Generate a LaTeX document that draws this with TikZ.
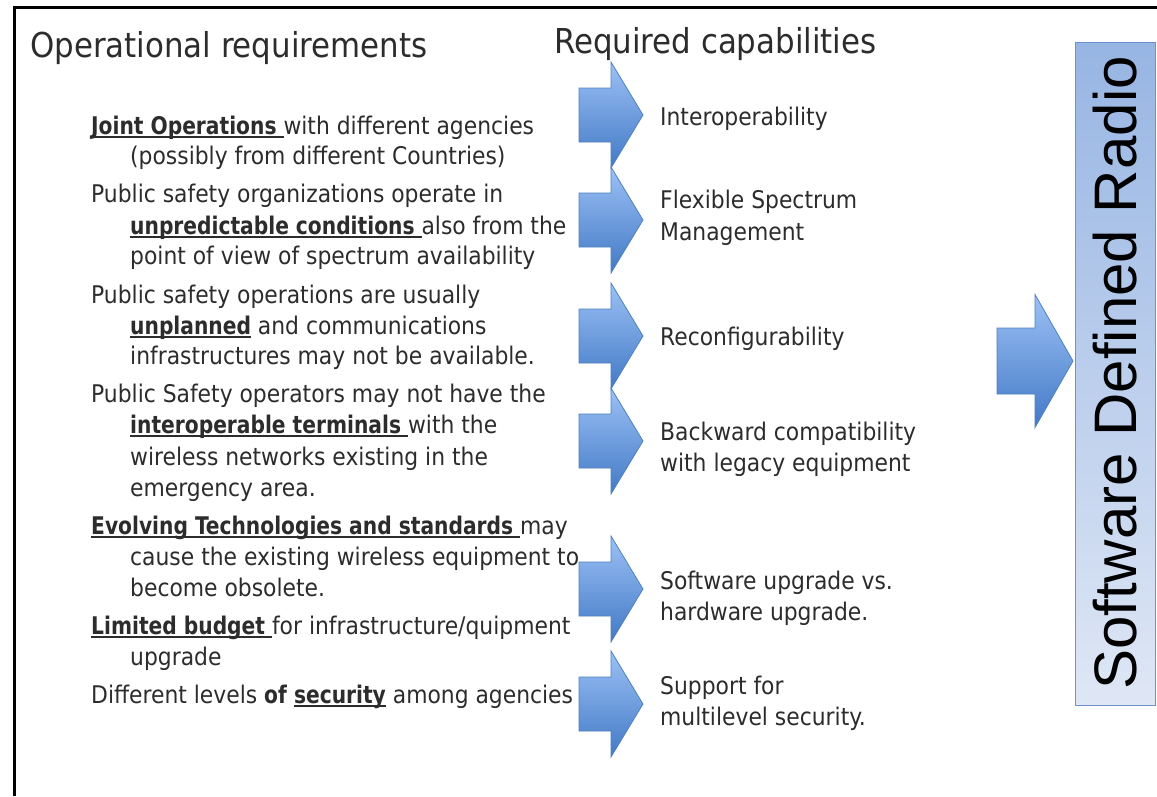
\documentclass[tikz,border=0pt]{standalone}
\usepackage{fontspec}
\setmainfont{DejaVu Sans Condensed}[BoldFeatures={FakeStretch=0.925}]
\newfontfamily\sdrfont{Liberation Sans}

\definecolor{ink}{HTML}{2C2C2C}
\definecolor{arrowtop}{HTML}{9CC1F5}
\definecolor{arrowbot}{HTML}{4279C6}
\definecolor{arrowline}{HTML}{4F81BD}
\definecolor{sdrtop}{HTML}{97B5E3}
\definecolor{sdrbot}{HTML}{DFE7F5}
\definecolor{sdrline}{HTML}{6C92CB}

% underline drawn just below the baseline, crossing descenders
\newsavebox\ulbox
\newcommand\ult[1]{\sbox\ulbox{#1}\rlap{\color{ink}\rule[-3.5pt]{\wd\ulbox}{1.8pt}}\usebox\ulbox}

\tikzset{
  heading/.style={anchor=base west, inner sep=0pt, text=ink, font=\fontsize{34.3}{40}\selectfont},
  reqline/.style={anchor=base west, inner sep=0pt, text=ink, font=\fontsize{24.3}{28}\selectfont},
  capline/.style={reqline},
  blockarrow/.style={draw=arrowline, line width=0.8pt, top color=arrowtop, bottom color=arrowbot, line join=miter},
  sdrbox/.style={draw=sdrline, line width=1pt, top color=sdrtop, bottom color=sdrbot},
}

% block arrow: name, shaft left x, head base x, tip x, centre y, half shaft, half head
\newcommand\blockarr[7]{%
  \path[blockarrow] (#2,{#5-#6}) -- (#3,{#5-#6}) -- (#3,{#5-#7}) -- (#4,#5)
    -- (#3,{#5+#7}) -- (#3,{#5+#6}) -- (#2,{#5+#6}) -- cycle;
  \coordinate (#1) at (#4,#5);
}

\begin{document}
\begin{tikzpicture}[x=1pt,y=-1pt]
\useasboundingbox (0,0) rectangle (1157,796);
\fill[white] (0,0) rectangle (1157,796);

% frame
\draw[line width=3pt, line join=miter] (14.5,796) -- (14.5,7.5) -- (1157,7.5);

% headings
\node[heading] (hreq) at (30,57) {Operational requirements};
\node[heading] (hcap) at (554,53) {Required capabilities};

% operational requirements
\node[reqline] (r1)  at (91,134)  {\ult{\textbf{Joint Operations}\ }with different agencies};
\node[reqline] (r2)  at (130,164) {(possibly from different Countries)};
\node[reqline] (r3)  at (91,202)  {Public safety organizations operate in};
\node[reqline] (r4)  at (130,234) {\ult{\textbf{unpredictable conditions}\ }also from the};
\node[reqline] (r5)  at (130,264) {point of view of spectrum availability};
\node[reqline] (r6)  at (91,303)  {Public safety operations are usually};
\node[reqline] (r7)  at (130,334) {\ult{\textbf{unplanned}} and communications};
\node[reqline] (r8)  at (130,364) {infrastructures may not be available.};
\node[reqline] (r9)  at (91,402)  {Public Safety operators may not have the};
\node[reqline] (r10) at (130,433) {\ult{\textbf{interoperable terminals}\ }with the};
\node[reqline] (r11) at (130,465) {wireless networks existing in the};
\node[reqline] (r12) at (130,496) {emergency area.};
\node[reqline] (r13) at (91,534)  {\ult{\textbf{Evolving Technologies and standards}\ }may};
\node[reqline] (r14) at (130,565) {cause the existing wireless equipment to};
\node[reqline] (r15) at (130,596) {become obsolete.};
\node[reqline] (r16) at (91,634)  {\ult{\textbf{Limited budget}\ }for infrastructure/quipment};
\node[reqline] (r17) at (130,665) {upgrade};
\node[reqline] (r18) at (91,703)  {Different levels \textbf{of} \ult{\textbf{security}} among agencies};

% arrows to capabilities
\blockarr{a1}{579}{611}{643}{115}{27}{53}
\blockarr{a2}{579}{611}{643}{220}{27}{53}
\blockarr{a3}{579}{611}{643}{336}{27}{53}
\blockarr{a4}{579}{611}{643}{441}{27}{53}
\blockarr{a5}{579}{611}{643}{589}{27}{53}
\blockarr{a6}{579}{611}{643}{704}{27}{53}

% required capabilities
\node[capline] (c1)  at (660,125) {Interoperability};
\node[capline] (c2a) at (660,208) {Flexible Spectrum};
\node[capline] (c2b) at (660,240) {Management};
\node[capline] (c3)  at (660,345) {Reconfigurability};
\node[capline] (c4a) at (660,440) {Backward compatibility};
\node[capline] (c4b) at (660,471) {with legacy equipment};
\node[capline] (c5a) at (660,589) {Software upgrade vs.};
\node[capline] (c5b) at (660,620) {hardware upgrade.};
\node[capline] (c6a) at (660,694) {Support for};
\node[capline] (c6b) at (660,725) {multilevel security.};

% arrow into the SDR column
\blockarr{abig}{997}{1035}{1073}{361}{33}{66.5}

% Software Defined Radio column
\path[sdrbox] (1075,42) rectangle (1155,705);
\node[rotate=90, inner sep=0pt, font=\sdrfont\fontsize{60}{60}\selectfont] (sdr) at (1115,373) {Software Defined Radio};
\end{tikzpicture}
\end{document}
